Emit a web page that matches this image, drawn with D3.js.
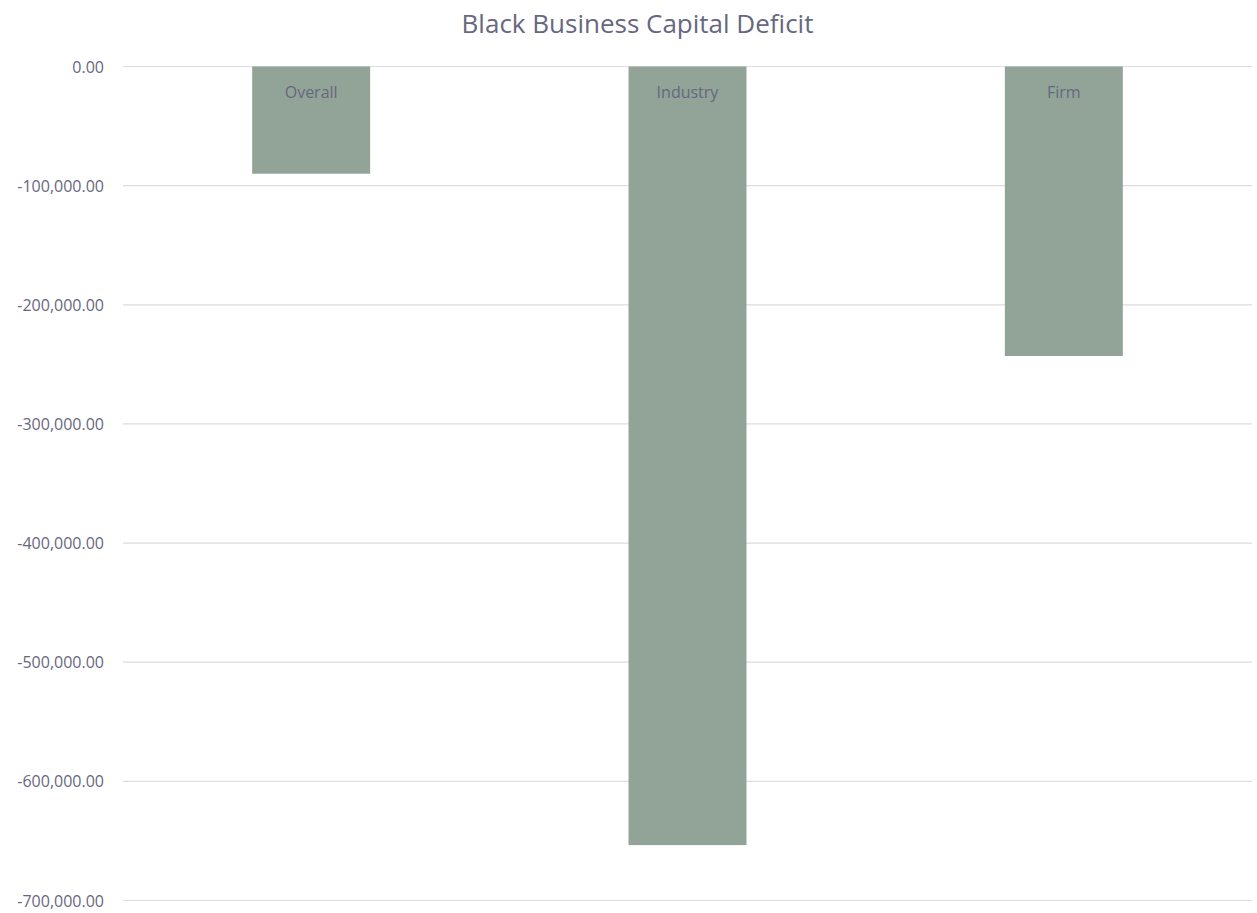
<!DOCTYPE html>
<html>
<head>
<meta charset="utf-8">
<script src="https://cdn.jsdelivr.net/npm/d3@7"></script>
<style>
  html, body { margin: 0; padding: 0; background: #ffffff; }
  svg { display: block; }
  text { font-family: "Open Sans", Lato, sans-serif; }
</style>
</head>
<body>
<svg id="chart" width="1257" height="913"></svg>
<script>
// Capital deficit by comparison basis (USD)
const categories = ["Overall", "Industry", "Firm"];
const deficit = [-90000, -653500, -243000];
const yTicks = [0, -100000, -200000, -300000, -400000, -500000, -600000, -700000];
const chartTitle = "Black Business Capital Deficit";

const W = 1257, H = 913;
const margin = { top: 66.5, right: 5, bottom: 12, left: 123 };
const svg = d3.select("#chart");
const textColor = "#67677f";

const x = d3.scaleBand()
  .domain(categories)
  .range([margin.left, W - margin.right])
  .paddingInner(219 / 319)
  .paddingOuter(219 / 319 / 2);

const y = d3.scaleLinear()
  .domain([0, -700000])
  .range([margin.top, 900.5]);

// Horizontal gridlines
svg.append("g")
  .selectAll("line")
  .data(yTicks)
  .join("line")
  .attr("x1", margin.left)
  .attr("x2", W - margin.right)
  .attr("y1", d => y(d))
  .attr("y2", d => y(d))
  .attr("stroke", "#dcdce2")
  .attr("stroke-width", 1.2);

// Y axis labels
const yAxis = d3.axisLeft(y)
  .tickValues(yTicks)
  .tickSize(0)
  .tickPadding(0)
  .tickFormat(d => d3.format(",.2f")(d).replace("−", "-"));

const yg = svg.append("g")
  .attr("transform", `translate(${margin.left - 19},0)`)
  .call(yAxis);
yg.select(".domain").remove();
yg.selectAll("text")
  .attr("dy", 5.5)
  .attr("fill", textColor)
  .attr("font-size", 16)
  .attr("font-family", "'Open Sans', Lato, sans-serif");

// Bars
svg.append("g")
  .selectAll("rect")
  .data(categories)
  .join("rect")
  .attr("x", d => x(d))
  .attr("width", x.bandwidth())
  .attr("y", (d, i) => y(Math.max(0, deficit[i])))
  .attr("height", (d, i) => Math.abs(y(deficit[i]) - y(0)))
  .attr("fill", "#92a398");

// Category labels inside the bars
svg.append("g")
  .selectAll("text")
  .data(categories)
  .join("text")
  .attr("x", d => x(d) + x.bandwidth() / 2)
  .attr("y", y(0) + 31.5)
  .attr("text-anchor", "middle")
  .attr("fill", textColor)
  .attr("font-size", 16)
  .text(d => d);

// Title
svg.append("text")
  .attr("x", 637.5)
  .attr("y", 32.5)
  .attr("text-anchor", "middle")
  .attr("fill", textColor)
  .attr("font-size", 26)
  .text(chartTitle);
</script>
</body>
</html>
